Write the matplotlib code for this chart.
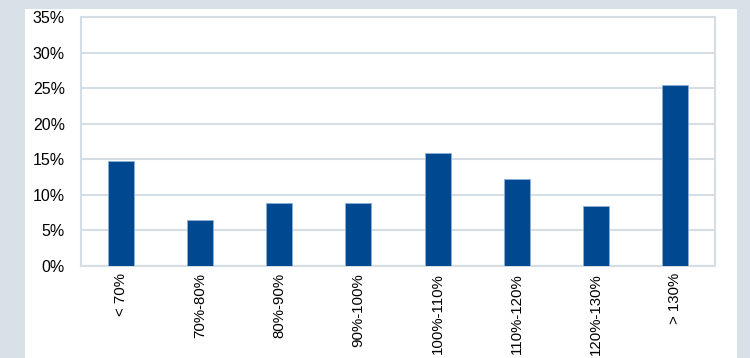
import matplotlib
matplotlib.use("Agg")
import matplotlib.pyplot as plt
from matplotlib.patches import Rectangle
from matplotlib.ticker import MultipleLocator, PercentFormatter

BLUE = "#004990"
EDGE = "#8fb0d6"
GRID = "#d5dde5"
FRAME = "#d9e1e8"

categories = ["< 70%", "70%-80%", "80%-90%", "90%-100%",
              "100%-110%", "110%-120%", "120%-130%", "> 130%"]
shares = [14.7, 6.4, 8.8, 8.8, 15.9, 12.2, 8.4, 25.4]

plt.rcParams["font.family"] = ["Liberation Sans", "DejaVu Sans"]

fig = plt.figure(figsize=(7.5, 3.58), dpi=100, facecolor=FRAME)
# white panel behind the chart
fig.patches.append(Rectangle((25 / 750, 0), 712 / 750, 349 / 358,
                             transform=fig.transFigure, facecolor="white",
                             edgecolor="none", zorder=-1))

ax = fig.add_axes([81 / 750, 92 / 358, 634 / 750, 249 / 358])
ax.set_zorder(1)
ax.set_facecolor("none")
x = range(len(categories))
ax.bar(x, shares, width=0.33, color=BLUE, edgecolor=EDGE, linewidth=0.6, zorder=3)

ax.set_xlim(-0.5, len(categories) - 0.5)
ax.set_ylim(0, 35)
ax.yaxis.set_major_locator(MultipleLocator(5))
ax.yaxis.set_major_formatter(PercentFormatter(decimals=0))
ax.grid(axis="y", color=GRID, linewidth=1.5, zorder=1)

ax.set_xticks(list(x))
ax.set_xticklabels(categories, rotation=90, va="top", ha="center")
ax.tick_params(axis="both", length=0, colors="black")
ax.tick_params(axis="y", pad=11.5, labelsize=11.5)
ax.tick_params(axis="x", pad=5, labelsize=10.8)

for side in ["left", "right", "bottom", "top"]:
    ax.spines[side].set_color(GRID)
    ax.spines[side].set_linewidth(1.5)

fig.savefig("out.png", dpi=100, facecolor=FRAME)
plt.close(fig)
